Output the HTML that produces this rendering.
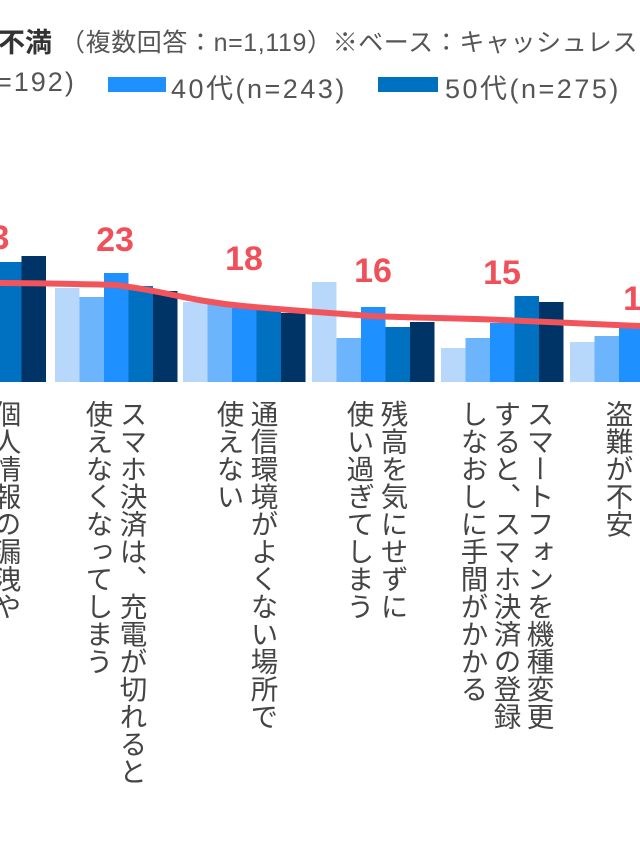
<!DOCTYPE html>
<html><head><meta charset="utf-8"><style>
body{margin:0;width:640px;height:853px;overflow:hidden;background:#fff;position:relative;font-family:"Liberation Sans","Noto Sans CJK JP",sans-serif}
.t{position:absolute;white-space:nowrap}
.v{position:absolute;writing-mode:vertical-rl;font-size:27.5px;line-height:1;color:#444;top:400px;white-space:nowrap}
.n{position:absolute;font-weight:bold;font-size:34px;color:#f0505a;transform:translateX(-50%)}
</style></head><body>
<div class="t" style="left:-2px;top:21px;font-size:27px;font-weight:bold;color:#333">不満</div>
<div class="t" style="left:60px;top:23px;font-size:25px;color:#555;letter-spacing:0.6px">（複数回答：n=1,119）※ベース：キャッシュレス</div>
<div class="t" style="left:-4px;top:67px;font-size:27px;color:#555;letter-spacing:2px">=192)</div>
<div style="position:absolute;left:108px;top:77px;width:58px;height:15px;background:#1e90ff"></div>
<div class="t" style="left:171px;top:67px;font-size:27px;color:#555;letter-spacing:2.5px">40代(n=243)</div>
<div style="position:absolute;left:378px;top:77px;width:60px;height:15px;background:#0070c0"></div>
<div class="t" style="left:445px;top:67px;font-size:27px;color:#555;letter-spacing:2.5px">50代(n=275)</div>

<svg width="640" height="853" style="position:absolute;left:0;top:0">
<g>
<rect x="-3" y="262" width="24.5" height="120" fill="#0070c0"/>
<rect x="21.5" y="256" width="24.5" height="126" fill="#003366"/>
<rect x="55" y="288" width="24.5" height="94" fill="#b8d8fb"/>
<rect x="79.5" y="297" width="24.5" height="85" fill="#6cb4fb"/>
<rect x="104" y="273" width="24.5" height="109" fill="#1e90ff"/>
<rect x="128.5" y="286" width="24.5" height="96" fill="#0070c0"/>
<rect x="153" y="291" width="24.5" height="91" fill="#003366"/>
<rect x="183" y="302" width="24.5" height="80" fill="#b8d8fb"/>
<rect x="207.5" y="302" width="24.5" height="80" fill="#6cb4fb"/>
<rect x="232" y="308" width="24.5" height="74" fill="#1e90ff"/>
<rect x="256.5" y="310" width="24.5" height="72" fill="#0070c0"/>
<rect x="281" y="313" width="24.5" height="69" fill="#003366"/>
<rect x="312" y="282" width="24.5" height="100" fill="#b8d8fb"/>
<rect x="336.5" y="338" width="24.5" height="44" fill="#6cb4fb"/>
<rect x="361" y="307" width="24.5" height="75" fill="#1e90ff"/>
<rect x="385.5" y="327" width="24.5" height="55" fill="#0070c0"/>
<rect x="410" y="322" width="24.5" height="60" fill="#003366"/>
<rect x="441" y="348" width="24.5" height="34" fill="#b8d8fb"/>
<rect x="465.5" y="338" width="24.5" height="44" fill="#6cb4fb"/>
<rect x="490" y="323" width="24.5" height="59" fill="#1e90ff"/>
<rect x="514.5" y="296" width="24.5" height="86" fill="#0070c0"/>
<rect x="539" y="302" width="24.5" height="80" fill="#003366"/>
<rect x="570" y="342" width="24.5" height="40" fill="#b8d8fb"/>
<rect x="594.5" y="336" width="24.5" height="46" fill="#6cb4fb"/>
<rect x="619" y="326" width="24.5" height="56" fill="#1e90ff"/>
</g>
<path d="M-15,283 C40,283 80,284 115,285 C160,290 190,301 243,306 C300,311 330,313 372,316 C420,318 460,318 502,320 C550,322 590,324 640,326" fill="none" stroke="#f2545b" stroke-width="6" stroke-linecap="round"/>
</svg>
<div class="n" style="left:0px;top:219px">3</div>
<div class="n" style="left:115px;top:221px">23</div>
<div class="n" style="left:244px;top:240px">18</div>
<div class="n" style="left:373px;top:252px">16</div>
<div class="n" style="left:502px;top:254px">15</div>
<div class="n" style="left:642px;top:280px">14</div>

<div class="v" style="left:-9px">個人情報の漏洩や</div>
<div class="v" style="left:117px">スマホ決済は、充電が切れると</div>
<div class="v" style="left:83px">使えなくなってしまう</div>
<div class="v" style="left:248px">通信環境がよくない場所で</div>
<div class="v" style="left:214px">使えない</div>
<div class="v" style="left:378px">残高を気にせずに</div>
<div class="v" style="left:344px">使い過ぎてしまう</div>
<div class="v" style="left:524px">スマートフォンを機種変更</div>
<div class="v" style="left:491px">すると、スマホ決済の登録</div>
<div class="v" style="left:458px">しなおしに手間がかかる</div>
<div class="v" style="left:603px">盗難が不安</div>
</body></html>
